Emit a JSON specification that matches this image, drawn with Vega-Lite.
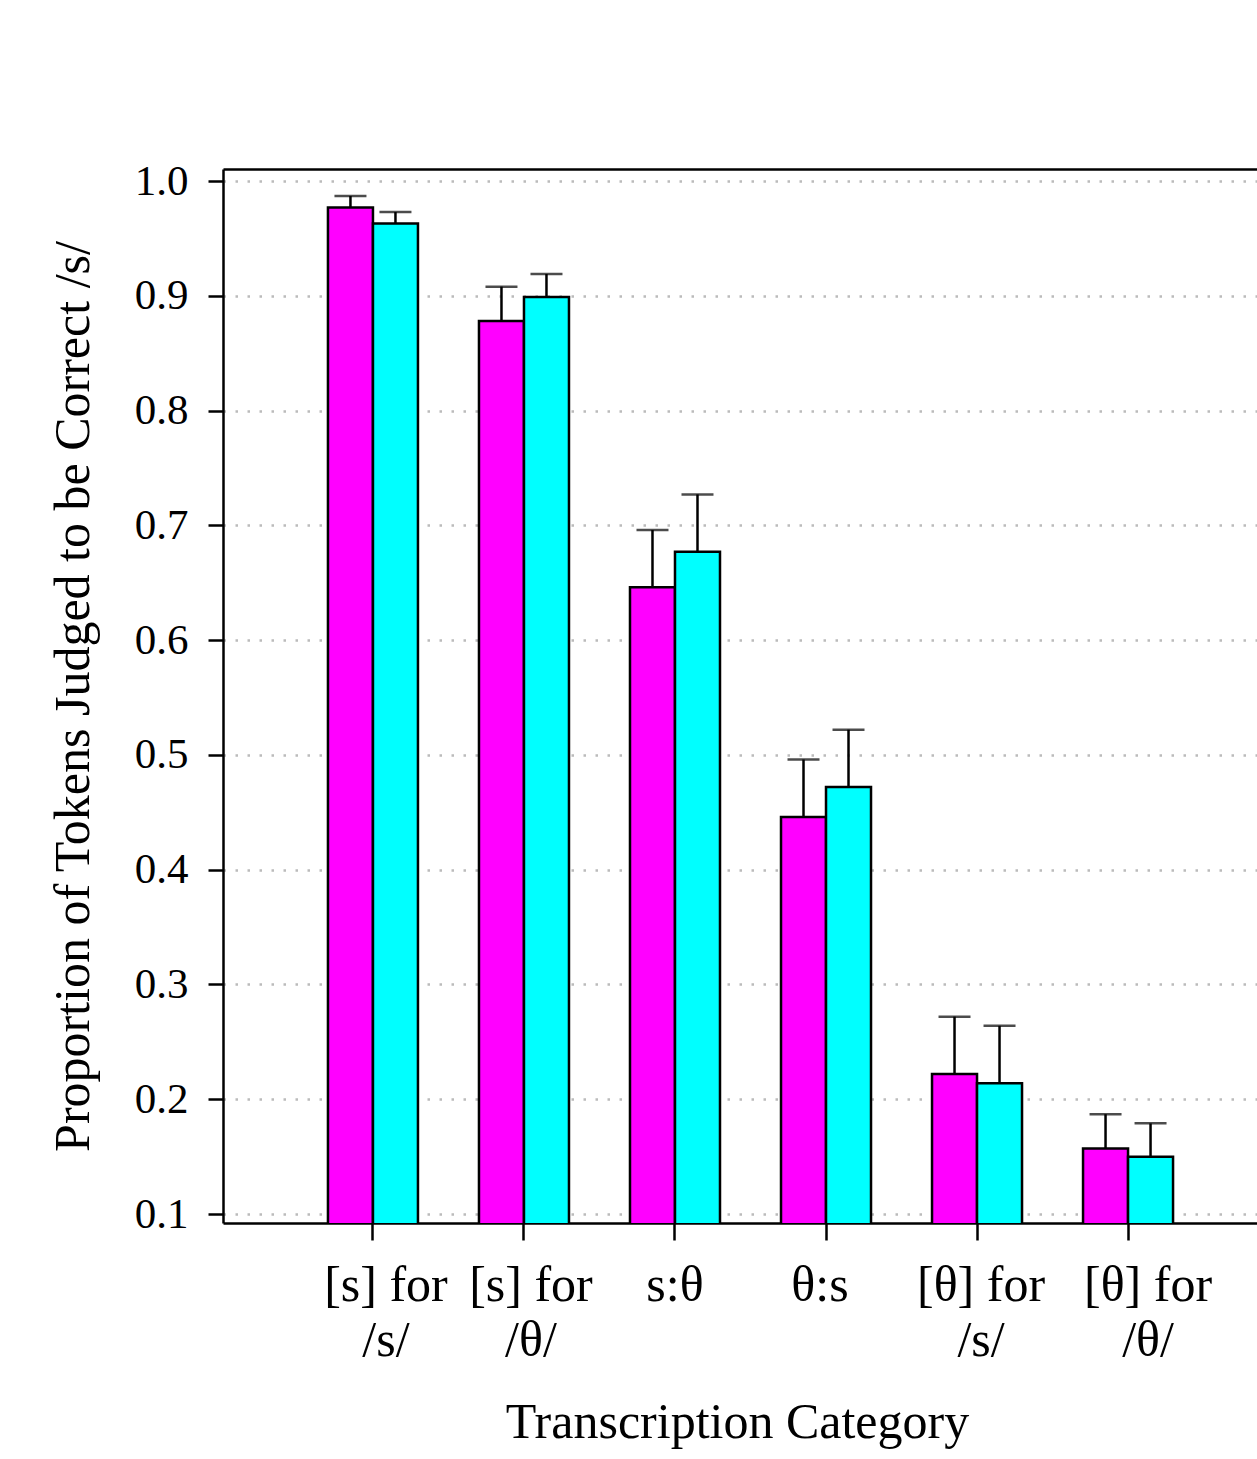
{
  "$schema": "https://vega.github.io/schema/vega-lite/v6.json",
  "width": 1034,
  "height": 1054,
  "autosize": {"type": "none"},
  "padding": {"left": 223, "top": 169, "right": 0, "bottom": 236},
  "config": {"view": {"stroke": null}, "font": "Liberation Serif"},
  "data": {
    "values": [
      {"category": "[s] for /s/", "group": "A", "mean": 0.977, "upper": 0.987},
      {"category": "[s] for /s/", "group": "B", "mean": 0.963, "upper": 0.973},
      {"category": "[s] for /θ/", "group": "A", "mean": 0.878, "upper": 0.908},
      {"category": "[s] for /θ/", "group": "B", "mean": 0.899, "upper": 0.919},
      {"category": "s:θ", "group": "A", "mean": 0.646, "upper": 0.696},
      {"category": "s:θ", "group": "B", "mean": 0.677, "upper": 0.727},
      {"category": "θ:s", "group": "A", "mean": 0.446, "upper": 0.496},
      {"category": "θ:s", "group": "B", "mean": 0.472, "upper": 0.522},
      {"category": "[θ] for /s/", "group": "A", "mean": 0.222, "upper": 0.272},
      {"category": "[θ] for /s/", "group": "B", "mean": 0.214, "upper": 0.264},
      {"category": "[θ] for /θ/", "group": "A", "mean": 0.157, "upper": 0.187},
      {"category": "[θ] for /θ/", "group": "B", "mean": 0.150, "upper": 0.179}
    ]
  },
  "encoding": {
    "x": {
      "field": "category",
      "type": "nominal",
      "sort": null,
      "scale": {"range": [0, 1055], "paddingInner": 0.404, "paddingOuter": 0.695}
    },
    "xOffset": {"field": "group", "type": "nominal", "sort": null, "scale": {"paddingInner": 0}}
  },
  "resolve": {"axis": {"x": "independent"}},
  "layer": [
    {
      "mark": {"type": "bar", "stroke": "black", "strokeWidth": 2.5, "clip": true},
      "encoding": {
        "x": {
          "field": "category",
          "type": "nominal",
          "sort": null,
          "axis": {
            "title": "Transcription Category",
            "titleFontSize": 50,
            "titleFontWeight": "normal",
            "titleColor": "black",
            "titlePadding": 32,
            "titleX": 514,
            "labelAngle": 0,
            "labelFontSize": 50,
            "labelColor": "black",
            "labelPadding": 20,
            "labelLineHeight": 55,
            "labelBaseline": "top",
            "labelOffset": {
              "condition": [
                {"test": "datum.value == '[s] for /s/'", "value": 13},
                {"test": "datum.value == '[s] for /θ/'", "value": 7},
                {"test": "datum.value == 'θ:s'", "value": -6},
                {"test": "datum.value == '[θ] for /s/'", "value": 4},
                {"test": "datum.value == '[θ] for /θ/'", "value": 20}
              ],
              "value": 0
            },
            "labelExpr": "indexof(datum.label, ' for ') >= 0 ? [slice(datum.label, 0, indexof(datum.label, ' for ') + 4), slice(datum.label, indexof(datum.label, ' for ') + 5)] : datum.label",
            "tickSize": 17,
            "tickWidth": 2.5,
            "tickColor": "black",
            "domainColor": "black",
            "domainWidth": 2.5
          }
        },
        "y": {
          "field": "mean",
          "type": "quantitative",
          "scale": {"domain": [0.0922, 1.0105], "nice": false, "zero": false},
          "axis": {
            "title": "Proportion of Tokens Judged to be Correct /s/",
            "titleFontSize": 50,
            "titleFontWeight": "normal",
            "titleColor": "black",
            "titlePadding": 36,
            "values": [0.1, 0.2, 0.3, 0.4, 0.5, 0.6, 0.7, 0.8, 0.9, 1.0],
            "format": ".1f",
            "labelFontSize": 43,
            "labelColor": "black",
            "labelPadding": 20,
            "tickSize": 15,
            "tickWidth": 2.5,
            "tickColor": "black",
            "domainColor": "black",
            "domainWidth": 2.5,
            "grid": true,
            "gridColor": "#bbbbbb",
            "gridWidth": 2.5,
            "gridDash": [2.5, 9.5]
          }
        },
        "color": {
          "field": "group",
          "type": "nominal",
          "scale": {"domain": ["A", "B"], "range": ["#ff00ff", "#00ffff"]},
          "legend": null
        }
      }
    },
    {
      "mark": {"type": "rule", "color": "black", "strokeWidth": 2.5},
      "encoding": {
        "x": {"field": "category", "type": "nominal", "sort": null, "axis": null},
        "y": {"field": "mean", "type": "quantitative"},
        "y2": {"field": "upper"}
      }
    },
    {
      "mark": {"type": "tick", "color": "black", "size": 32, "thickness": 2.5, "orient": "horizontal"},
      "encoding": {
        "x": {
          "field": "category",
          "type": "nominal",
          "sort": null,
          "axis": {"orient": "top", "title": null, "labels": false, "ticks": false, "domain": true, "domainColor": "black", "domainWidth": 2.5, "grid": false}
        },
        "y": {"field": "upper", "type": "quantitative"}
      }
    }
  ]
}
